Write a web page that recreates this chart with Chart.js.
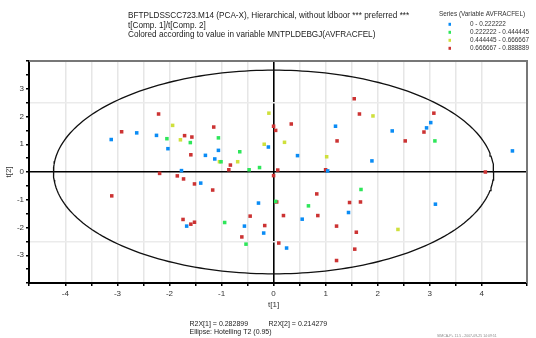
<!DOCTYPE html>
<html>
<head>
<meta charset="utf-8">
<script src="https://cdn.jsdelivr.net/npm/chart.js@4.4.0/dist/chart.umd.min.js"></script>
<style>
  html, body { margin: 0; padding: 0; background: #fff; }
  #wrap { width: 536px; height: 338px; }
</style>
</head>
<body>
<div id="wrap"><canvas id="scoreChart" width="536" height="338"></canvas></div>
<script>
// score values t[1] / t[2], grouped by class of AVFRACFEL
const blueT1 = [-2.63, -3.12, -2.25, -2.03, -1.77, -1.40, 1.19, -1.06, -0.10, -1.31, -1.13, 0.46, 1.04, -0.29, 3.02, 2.94, 2.28, 4.59, 1.89, 3.11, 1.44, 0.55, -1.67, -0.56, -0.19, 0.25];
const blueT2 = [1.41, 1.17, 1.32, 0.84, 0.05, -0.40, 1.65, 0.78, 0.90, 0.60, 0.47, 0.59, 0.04, -1.12, 1.78, 1.59, 1.48, 0.76, 0.40, -1.16, -1.46, -1.70, -1.95, -1.95, -2.20, -2.74];

const greenT1 = [-2.05, -1.60, -1.06, -0.65, -1.01, -0.47, -0.27, 0.04, 0.67, 3.10, 1.68, -0.94, -0.53];
const greenT2 = [1.20, 1.06, 1.23, 0.73, 0.37, 0.08, 0.16, -1.06, -1.22, 1.12, -0.63, -1.82, -2.60];

const yellowT1 = [-1.94, -1.79, -0.09, -0.18, 0.21, -1.04, -0.69, 1.02, 1.91, 2.39];
const yellowT2 = [1.68, 1.16, 2.12, 1.00, 1.07, 0.37, 0.37, 0.55, 2.02, -2.07];

const redT1 = [-2.21, -2.92, -1.71, -1.57, -1.59, -2.19, -1.85, -1.73, -1.52, -3.11, -1.15, 0.00, 0.04, 0.34, 1.22, -0.83, -0.86, 0.08, 0.00, 1.00, -1.17, 0.06, 0.83, 1.55, 1.65, 3.08, 2.89, 2.53, 4.07, 1.46, 1.67, 1.21, 1.59, 1.56, 1.21, 0.19, 0.85, -0.45, -1.74, -1.59, -1.52, -0.17, -0.61, 0.10];
const redT2 = [2.09, 1.45, 1.31, 1.26, 0.62, -0.05, -0.14, -0.25, -0.43, -0.86, 1.62, 1.65, 1.50, 1.73, 1.12, 0.25, 0.08, 0.07, -0.13, 0.08, -0.65, -1.08, -0.79, 2.64, 2.09, 2.12, 1.44, 1.12, 0.00, -1.10, -1.08, -1.95, -2.17, -2.78, -3.19, -1.57, -1.57, -1.59, -1.71, -1.88, -1.81, -1.93, -2.34, -2.56];

const seriesLabels = ['0 - 0.222222', '0.222222 - 0.444445', '0.444445 - 0.666667', '0.666667 - 0.888889'];
const seriesColors = ['#0a8cf5', '#2ee65a', '#cfe03c', '#cc3333'];

const xTickLabels = [-4, -3, -2, -1, 0, 1, 2, 3, 4];
const yTickLabels = [-3, -2, -1, 0, 1, 2, 3];

// Hotelling T2 (0.95) ellipse semi axes
const ellipseA = 4.23;
const ellipseB = 3.67;

function toPoints(xs, ys) {
  return xs.map((x, i) => ({ x: x, y: ys[i] }));
}

function ellipsePoints() {
  const pts = [];
  for (let i = 0; i <= 240; i++) {
    const a = (i / 240) * Math.PI * 2;
    pts.push({ x: ellipseA * Math.cos(a), y: ellipseB * Math.sin(a) });
  }
  return pts;
}

const FONT = "'Liberation Sans', Arial, sans-serif";

function isLabel(v, list) {
  return list.some(t => Math.abs(t - v) < 1e-6);
}

// titles, legend, footer and the grey top/right frame
const annotations = {
  id: 'annotations',
  afterDraw(chart) {
    const ctx = chart.ctx;
    const area = chart.chartArea;
    ctx.save();

    ctx.strokeStyle = '#777';
    ctx.lineWidth = 2;
    ctx.beginPath();
    ctx.moveTo(area.left, area.top);
    ctx.lineTo(area.right, area.top);
    ctx.lineTo(area.right, area.bottom);
    ctx.stroke();

    ctx.fillStyle = '#222';
    ctx.textBaseline = 'middle';
    ctx.textAlign = 'left';
    ctx.font = '8.2px ' + FONT;
    ctx.fillText('BFTPLDSSCC723.M14 (PCA-X), Hierarchical, without ldboor *** preferred ***', 128, 15.5);
    ctx.fillText('t[Comp. 1]/t[Comp. 2]', 128, 25.3);
    ctx.fillText('Colored according to value in variable MNTPLDEBGJ(AVFRACFEL)', 128, 34.5);

    // legend
    ctx.fillStyle = '#333';
    ctx.font = '6.4px ' + FONT;
    ctx.fillText('Series (Variable AVFRACFEL)', 439, 14.7);
    const pointSets = chart.data.datasets.filter(d => !d.isEllipse);
    pointSets.forEach((d, i) => {
      const y = 24.3 + i * 8;
      ctx.fillStyle = d.backgroundColor;
      ctx.fillRect(448.5, y - 1.5, 2.5, 3);
      ctx.fillStyle = '#333';
      ctx.fillText(d.label, 470, y);
    });

    // axis titles
    ctx.fillStyle = '#333';
    ctx.font = '8px ' + FONT;
    ctx.textAlign = 'center';
    const xs = chart.scales.x;
    ctx.fillText('t[1]', xs.getPixelForValue(0), 305);
    ctx.save();
    ctx.translate(9, chart.scales.y.getPixelForValue(0));
    ctx.rotate(-Math.PI / 2);
    ctx.fillText('t[2]', 0, 0);
    ctx.restore();

    // footer
    ctx.textAlign = 'left';
    ctx.font = '7px ' + FONT;
    ctx.fillStyle = '#222';
    ctx.fillText('R2X[1] = 0.282899', 189.5, 324.3);
    ctx.fillText('R2X[2] = 0.214279', 268.5, 324.3);
    ctx.fillText('Ellipse: Hotelling T2 (0.95)', 189.5, 332.5);
    ctx.font = '3.5px ' + FONT;
    ctx.fillStyle = '#888';
    ctx.fillText('SIMCA-P+ 11.5 - 2007-09-25 14:09:51', 437, 336.5);

    ctx.restore();
  }
};

const groups = [[blueT1, blueT2], [greenT1, greenT2], [yellowT1, yellowT2], [redT1, redT2]];

const datasets = groups.map((g, i) => ({
  label: seriesLabels[i],
  data: toPoints(g[0], g[1]),
  backgroundColor: seriesColors[i],
  borderWidth: 0,
  pointStyle: 'rect',
  pointRadius: 2.5,
  order: 1,
}));

datasets.push({
  label: 'ellipse',
  isEllipse: true,
  data: ellipsePoints(),
  showLine: true,
  borderColor: '#111',
  borderWidth: 1.3,
  pointRadius: 0,
  fill: false,
  order: 5,
});

new Chart(document.getElementById('scoreChart').getContext('2d'), {
  type: 'scatter',
  data: { datasets: datasets },
  plugins: [annotations],
  options: {
    responsive: false,
    devicePixelRatio: 1,
    animation: false,
    layout: { padding: { top: 61, right: 9, bottom: 35, left: 0 } },
    plugins: {
      legend: { display: false },
      tooltip: { enabled: false },
    },
    scales: {
      x: {
        type: 'linear',
        min: -4.7,
        max: 4.87,
        afterFit: s => { s.height = 20; },
        ticks: {
          stepSize: 0.5,
          autoSkip: false,
          maxRotation: 0,
          padding: 3,
          color: '#333',
          font: { family: FONT, size: 8 },
          callback: v => isLabel(v, xTickLabels) ? String(v) : '',
        },
        grid: {
          color: c => Math.abs(c.tick.value) < 1e-6 ? '#000' : '#e6e6e6',
          lineWidth: c => Math.abs(c.tick.value) < 1e-6 ? 1.6 : 1.5,
          tickColor: '#000',
          tickLength: 3,
        },
        border: { color: '#000', width: 2 },
      },
      y: {
        type: 'linear',
        min: -4,
        max: 4,
        afterFit: s => { s.width = 29; },
        ticks: {
          stepSize: 0.5,
          autoSkip: false,
          padding: 2,
          color: '#333',
          font: { family: FONT, size: 8 },
          callback: v => isLabel(v, yTickLabels) ? String(v) : '',
        },
        grid: {
          color: c => {
            const v = c.tick.value;
            if (Math.abs(v) < 1e-6) return '#000';
            if (Math.abs(Math.abs(v) - 2.5) < 1e-6) return '#ebebeb';
            return 'rgba(0,0,0,0)';
          },
          lineWidth: c => Math.abs(c.tick.value) < 1e-6 ? 1.6 : 1.5,
          tickColor: '#000',
          tickLength: 3,
        },
        border: { color: '#000', width: 2 },
      },
    },
  },
});
</script>
</body>
</html>
